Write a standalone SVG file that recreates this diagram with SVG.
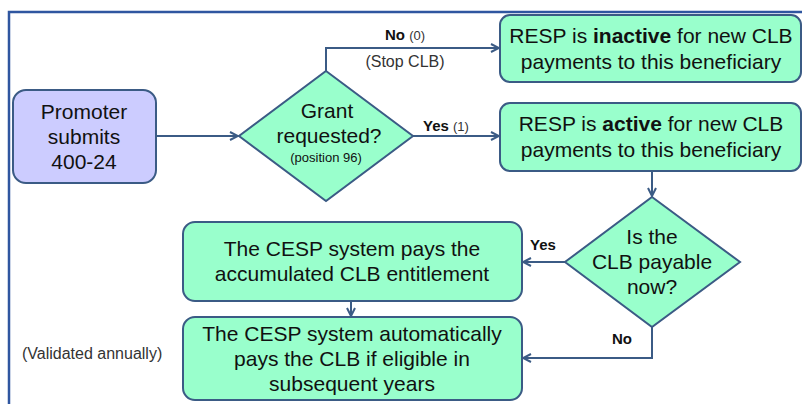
<svg xmlns="http://www.w3.org/2000/svg" width="802" height="404" viewBox="0 0 802 404">
<defs>
<marker id="arr" viewBox="0 0 10 10" refX="9" refY="5" markerWidth="10" markerHeight="10" markerUnits="userSpaceOnUse" orient="auto">
<path d="M1,1 L9,5 L1,9" fill="none" stroke="#3b5b85" stroke-width="2"/>
</marker>
</defs>
<style>
.box{fill:#99ffcc;stroke:#3b5b85;stroke-width:2}
.prom{fill:#ccccff;stroke:#3b5b85;stroke-width:2}
.t{font-family:"Liberation Sans",Arial,sans-serif;font-size:21px;fill:#111;text-anchor:middle}
.c{fill:none;stroke:#3b5b85;stroke-width:2}
.lb{font-family:"Liberation Sans",Arial,sans-serif;font-size:15px;font-weight:bold;fill:#111}
.sm{font-family:"Liberation Sans",Arial,sans-serif;font-size:13px;fill:#333;font-weight:normal}
</style>
<rect width="802" height="404" fill="#fff"/>
<path d="M9,404 V12 H802" fill="none" stroke="#2f56a0" stroke-width="2.5"/>
<g id="connectors">
<path class="c" d="M156,136 H238" marker-end="url(#arr)"/>
<path class="c" d="M326,71 V48 H499" marker-end="url(#arr)"/>
<path class="c" d="M413,136 H499" marker-end="url(#arr)"/>
<path class="c" d="M652,171 V196" marker-end="url(#arr)"/>
<path class="c" d="M565,262 H523" marker-end="url(#arr)"/>
<path class="c" d="M351,301 V316" marker-end="url(#arr)"/>
<path class="c" d="M652,327 V358 H523" marker-end="url(#arr)"/>
<text class="lb" x="385" y="40">No <tspan class="sm">(0)</tspan></text>
<text class="sm" x="405" y="67" text-anchor="middle" style="font-size:16px">(Stop CLB)</text>
<text class="lb" x="423" y="131">Yes <tspan class="sm">(1)</tspan></text>
<text class="lb" x="530" y="250">Yes</text>
<text class="lb" x="612" y="344">No</text>
</g>
<g id="promoter">
<rect class="prom" x="13" y="90" width="143" height="93" rx="13"/>
<text class="t" x="84" y="119">Promoter</text>
<text class="t" x="84" y="144">submits</text>
<text class="t" x="84" y="169">400-24</text>
</g>
<g id="grant">
<polygon class="box" points="326,71 413,136 326,201 239,136"/>
<text class="t" x="327" y="118">Grant</text>
<text class="t" x="329" y="143">requested?</text>
<text class="t" x="326" y="162" style="font-size:13px">(position 96)</text>
</g>
<g id="inactive">
<rect class="box" x="500" y="15" width="301" height="67" rx="10"/>
<text class="t" x="651" y="43">RESP is <tspan font-weight="bold">inactive</tspan> for new CLB</text>
<text class="t" x="651" y="69">payments to this beneficiary</text>
</g>
<g id="active">
<rect class="box" x="500" y="103" width="301" height="68" rx="10"/>
<text class="t" x="651" y="131">RESP is <tspan font-weight="bold">active</tspan> for new CLB</text>
<text class="t" x="651" y="157">payments to this beneficiary</text>
</g>
<g id="payable">
<polygon class="box" points="652,197 740,262 652,327 565,262"/>
<text class="t" x="652" y="244">Is the</text>
<text class="t" x="652" y="269">CLB payable</text>
<text class="t" x="652" y="294">now?</text>
</g>
<g id="pays">
<rect class="box" x="183" y="222" width="339" height="79" rx="12"/>
<text class="t" x="352" y="256">The CESP system pays the</text>
<text class="t" x="352" y="281">accumulated CLB entitlement</text>
</g>
<g id="auto">
<rect class="box" x="183" y="317" width="339" height="83" rx="12"/>
<text class="t" x="352" y="341">The CESP system automatically</text>
<text class="t" x="352" y="366">pays the CLB if eligible in</text>
<text class="t" x="352" y="391">subsequent years</text>
</g>
<text x="22" y="359" font-family="Liberation Sans, Arial, sans-serif" font-size="16" fill="#333">(Validated annually)</text>
</svg>
